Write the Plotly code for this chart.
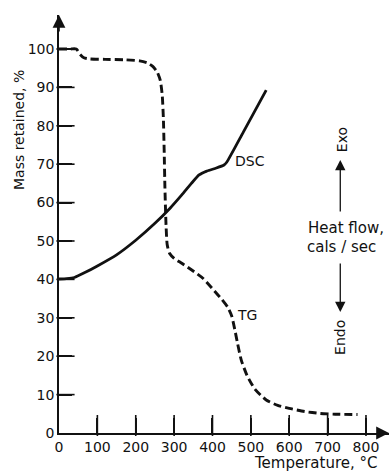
import plotly.graph_objects as go

# Thermogravimetric (TG) trace: temperature (°C) vs mass retained (%)
tg_temp = [0, 10, 30, 45, 55, 65, 80, 120, 170, 210, 230, 245, 256, 264, 269,
           272, 274, 276, 279, 282, 288, 300, 320, 345, 375, 405, 425, 440,
           450, 458, 465, 475, 490, 510, 540, 570, 600, 640, 680, 720, 778]
tg_mass = [100, 100, 100, 100, 98.6, 97.7, 97.4, 97.3, 97.2, 96.9, 96.4, 95.4,
           94.0, 91.8, 88.0, 82.0, 74.0, 64.0, 54.0, 49.0, 46.8, 45.5, 44.2,
           42.5, 40.3, 37.0, 34.7, 32.7, 30.5, 27.0, 23.5, 19.0, 15.0, 11.5,
           8.6, 7.2, 6.4, 5.6, 5.1, 4.9, 4.8]

# Differential scanning calorimetry (DSC) trace, plotted on the same scale
dsc_temp = [0, 20, 40, 70, 100, 150, 200, 250, 290, 320, 345, 365, 385,
            410, 430, 437, 480, 540]
dsc_val = [40.1, 40.2, 40.5, 41.9, 43.5, 46.4, 50.2, 54.6, 58.6, 62.0,
           65.0, 67.2, 68.2, 69.0, 69.8, 70.5, 78.3, 89.3]

x_ticks = [0, 100, 200, 300, 400, 500, 600, 700, 800]
y_ticks = [0, 10, 20, 30, 40, 50, 60, 70, 80, 90, 100]

X_MAX = 860
Y_MAX = 108.85
INK = "#111111"
FONT = "DejaVu Sans"

# inward tick marks: short line symbols sitting against each axis
X_TICK_HALF = 1.95   # half of a 15 px tick, in y units
Y_TICK_HALF = 16.9   # half of a 13 px tick, in x units

fig = go.Figure()
fig.add_trace(go.Scatter(
    x=tg_temp, y=tg_mass, mode="lines",
    line=dict(color=INK, width=2.9, dash="8px,4px", shape="spline", smoothing=0.6),
    hoverinfo="skip", showlegend=False))
fig.add_trace(go.Scatter(
    x=dsc_temp, y=dsc_val, mode="lines",
    line=dict(color=INK, width=2.8, shape="spline", smoothing=0.5),
    hoverinfo="skip", showlegend=False))
fig.add_trace(go.Scatter(
    x=x_ticks[1:], y=[X_TICK_HALF] * (len(x_ticks) - 1), mode="markers",
    marker=dict(symbol="line-ns", size=15, color=INK, line=dict(color=INK, width=1.6)),
    hoverinfo="skip", showlegend=False, cliponaxis=False))
fig.add_trace(go.Scatter(
    x=[Y_TICK_HALF] * (len(y_ticks) - 1), y=y_ticks[1:], mode="markers",
    marker=dict(symbol="line-ew", size=13, color=INK, line=dict(color=INK, width=1.6)),
    hoverinfo="skip", showlegend=False, cliponaxis=False))

axis_common = dict(
    showgrid=False, zeroline=False,
    showline=True, linecolor=INK, linewidth=1.6,
    ticks="inside", tickcolor=INK, tickwidth=1.6,
    tickfont=dict(family=FONT, size=14, color=INK),
)
fig.update_xaxes(range=[0, X_MAX], tickvals=x_ticks, ticklen=15, **axis_common)
fig.update_yaxes(range=[0, Y_MAX], tickvals=y_ticks, ticklen=13, **axis_common)

txt = dict(family=FONT, size=14, color=INK)
annotations = [
    # axis arrowheads
    dict(x=0, y=Y_MAX, xref="x", yref="y", ax=0, ay=18, text="", showarrow=True,
         arrowhead=2, arrowsize=1.6, arrowwidth=1.6, arrowcolor=INK),
    dict(x=X_MAX, y=0, xref="x", yref="y", ax=-12, ay=0, text="", showarrow=True,
         arrowhead=2, arrowsize=1.6, arrowwidth=1.6, arrowcolor=INK),
    # heat flow direction arrows
    dict(x=733, y=71.1, xref="x", yref="y", ax=0, ay=53, text="", showarrow=True,
         arrowhead=2, arrowsize=1.6, arrowwidth=1.3, arrowcolor=INK),
    dict(x=733, y=31.5, xref="x", yref="y", ax=0, ay=-50, text="", showarrow=True,
         arrowhead=2, arrowsize=1.6, arrowwidth=1.3, arrowcolor=INK),
    # labels
    dict(x=498, y=70.8, xref="x", yref="y", text="DSC", showarrow=False, font=txt),
    dict(x=490, y=30.7, xref="x", yref="y", text="TG", showarrow=False, font=txt),
    dict(x=738, y=76.3, xref="x", yref="y", text="Exo", textangle=-90,
         showarrow=False, font=txt),
    dict(x=748, y=53.4, xref="x", yref="y", text="Heat flow,", showarrow=False,
         font=dict(family=FONT, size=15, color=INK)),
    dict(x=737, y=48.4, xref="x", yref="y", text="cals / sec", showarrow=False,
         font=dict(family=FONT, size=15, color=INK)),
    dict(x=732, y=25.0, xref="x", yref="y", text="Endo", textangle=-90,
         showarrow=False, font=txt),
    # axis titles
    dict(x=-0.121, y=0.725, xref="paper", yref="paper", xanchor="center",
         yanchor="middle", text="Mass retained, %", textangle=-90,
         showarrow=False, font=txt),
    dict(x=0.779, y=-0.0718, xref="paper", yref="paper", xanchor="center",
         yanchor="middle", text="Temperature, °C", showarrow=False,
         font=dict(family=FONT, size=15, color=INK)),
]

fig.update_layout(
    template="none",
    width=390, height=475,
    margin=dict(l=59, r=1, t=15, b=42),
    paper_bgcolor="white", plot_bgcolor="white",
    annotations=annotations,
)

fig.write_html("out.html")
